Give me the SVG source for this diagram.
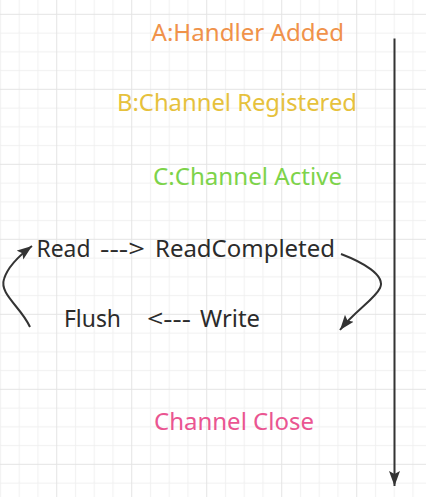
<svg xmlns="http://www.w3.org/2000/svg" width="426" height="497" viewBox="0 0 426 497">
<style>
text{font-family:"Noto Sans","Open Sans","Liberation Sans",sans-serif;font-size:24px}
.dark{fill:#2b2b2b}
.conn{fill:none;stroke:#333333;stroke-width:2}
</style>
<defs>
<pattern id="grid" patternUnits="userSpaceOnUse" x="-8.875" y="4.925" width="75" height="75">
<g stroke="#f0f0f0" stroke-width="1">
<line x1="9.375" y1="0" x2="9.375" y2="75"/>
<line x1="28.125" y1="0" x2="28.125" y2="75"/>
<line x1="46.875" y1="0" x2="46.875" y2="75"/>
<line x1="0" y1="28.125" x2="75" y2="28.125"/>
<line x1="0" y1="46.875" x2="75" y2="46.875"/>
<line x1="0" y1="65.625" x2="75" y2="65.625"/>
</g>
<g stroke="#e4e4e4" stroke-width="1">
<line x1="65.625" y1="0" x2="65.625" y2="75"/>
<line x1="0" y1="9.375" x2="75" y2="9.375"/>
</g>
</pattern>
<marker id="arrow" markerUnits="userSpaceOnUse" markerWidth="16" markerHeight="12" refX="15" refY="5.5" orient="auto" viewBox="0 0 16 11">
<path d="M0,0 L15,5.5 L0,11 L3,5.5 z" fill="#333333"/>
</marker>
</defs>
<rect width="426" height="497" fill="#ffffff"/>
<rect width="426" height="497" fill="url(#grid)"/>
<g id="connectors">
<line class="conn" x1="394.5" y1="38.5" x2="394.5" y2="486" stroke-width="1.6" marker-end="url(#arrow)"/>
<path class="conn" d="M30,327 C21,307 -1,294 4,279 C8,266 20,255 32,246" marker-end="url(#arrow)"/>
<path class="conn" d="M341,254 C362,262 386,275 380,288 C375,299 355,311 340,330" marker-end="url(#arrow)"/>
</g>
<g id="handler-added"><text x="151.5" y="41" fill="#f0924a" textLength="192.5" lengthAdjust="spacingAndGlyphs">A:Handler Added</text></g>
<g id="channel-registered"><text x="117" y="111" fill="#e6c13c" textLength="240" lengthAdjust="spacingAndGlyphs">B:Channel Registered</text></g>
<g id="channel-active"><text x="153" y="185" fill="#7dd34a" textLength="189" lengthAdjust="spacingAndGlyphs">C:Channel Active</text></g>
<g id="read"><text class="dark" y="256.5"><tspan x="36.5" textLength="54" lengthAdjust="spacingAndGlyphs">Read</tspan><tspan x="100" textLength="45" lengthAdjust="spacingAndGlyphs">---&gt;</tspan><tspan x="155" textLength="180" lengthAdjust="spacingAndGlyphs">ReadCompleted</tspan></text></g>
<g id="flush"><text class="dark" x="64" y="327" textLength="57" lengthAdjust="spacingAndGlyphs">Flush</text></g>
<g id="write"><text class="dark" y="327"><tspan x="147" textLength="44" lengthAdjust="spacingAndGlyphs">&lt;---</tspan><tspan x="200" textLength="60" lengthAdjust="spacingAndGlyphs">Write</tspan></text></g>
<g id="channel-close"><text x="154" y="429.5" fill="#ea5591" textLength="160" lengthAdjust="spacingAndGlyphs">Channel Close</text></g>
</svg>
